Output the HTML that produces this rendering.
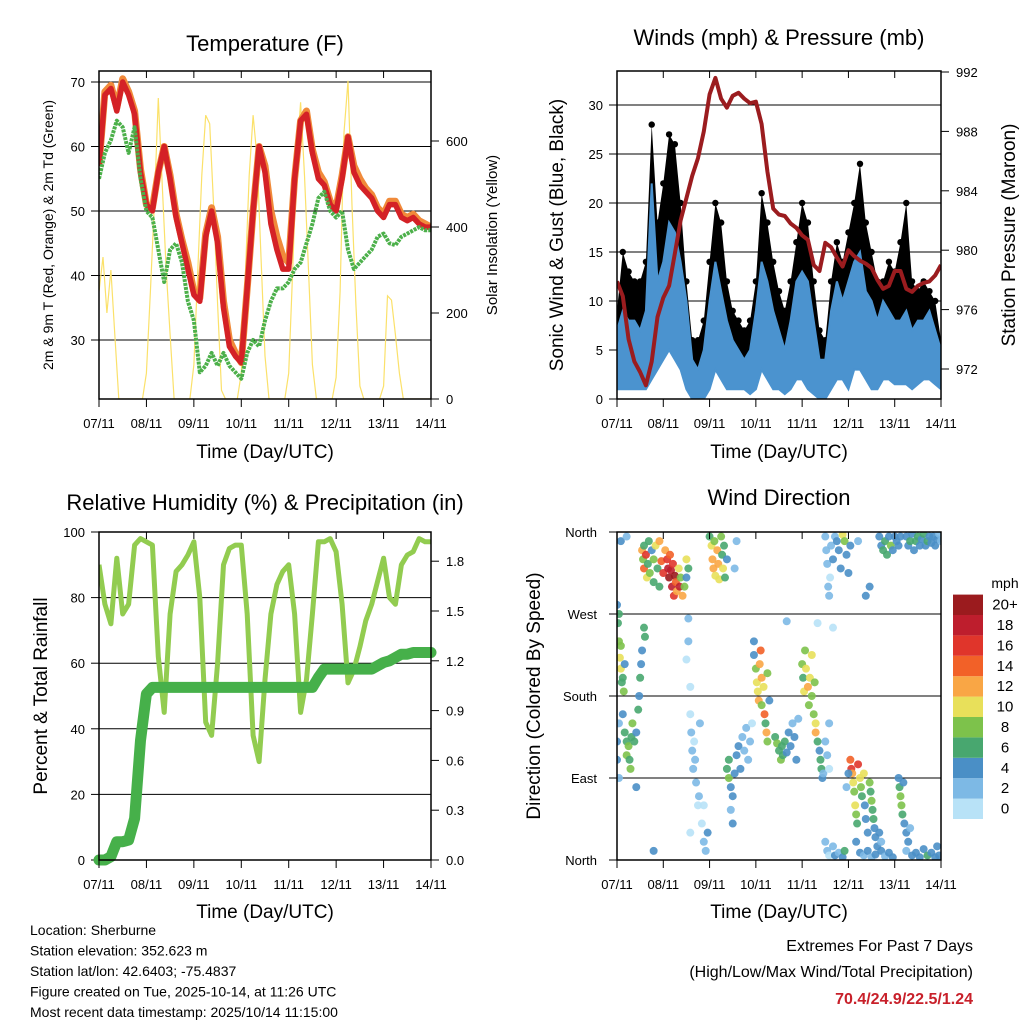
<!DOCTYPE html>
<html><head><meta charset="utf-8"><style>
html,body{margin:0;padding:0;background:#fff;}
svg{display:block;font-family:"Liberation Sans",Arial,sans-serif;}
</style></head><body>
<svg id="s" width="1024" height="1024" viewBox="0 0 1024 1024" xmlns="http://www.w3.org/2000/svg">
<defs>
<clipPath id="c1"><rect x="99" y="71" width="332" height="328"/></clipPath>
<clipPath id="c2"><rect x="617" y="71" width="324" height="328"/></clipPath>
<clipPath id="c3"><rect x="99" y="532" width="332" height="328"/></clipPath>
<clipPath id="c4"><rect x="617" y="532" width="324" height="328"/></clipPath>
</defs>
<text x="265" y="51" font-size="22" text-anchor="middle">Temperature (F)</text>
<text x="779" y="45" font-size="22" text-anchor="middle">Winds (mph) &amp; Pressure (mb)</text>
<text x="265" y="510" font-size="22" text-anchor="middle">Relative Humidity (%) &amp; Precipitation (in)</text>
<text x="779" y="505" font-size="22" text-anchor="middle">Wind Direction</text>

<text transform="translate(53,235) rotate(-90)" font-size="14" text-anchor="middle">2m &amp; 9m T (Red, Orange) &amp; 2m Td (Green)</text>
<text transform="translate(497,235) rotate(-90)" font-size="15" text-anchor="middle">Solar Insolation (Yellow)</text>
<text transform="translate(563,235) rotate(-90)" font-size="19" text-anchor="middle">Sonic Wind &amp; Gust (Blue, Black)</text>
<text transform="translate(1015,235) rotate(-90)" font-size="19" text-anchor="middle">Station Pressure (Maroon)</text>
<text transform="translate(47,696) rotate(-90)" font-size="19" text-anchor="middle">Percent &amp; Total Rainfall</text>
<text transform="translate(540,696) rotate(-90)" font-size="19" text-anchor="middle">Direction (Colored By Speed)</text>

<text x="265" y="458" font-size="19" text-anchor="middle">Time (Day/UTC)</text>
<text x="779" y="458" font-size="19" text-anchor="middle">Time (Day/UTC)</text>
<text x="265" y="918" font-size="19" text-anchor="middle">Time (Day/UTC)</text>
<text x="779" y="918" font-size="19" text-anchor="middle">Time (Day/UTC)</text>

<g font-size="14">
<text x="30" y="935">Location: Sherburne</text>
<text x="30" y="955.5">Station elevation: 352.623 m</text>
<text x="30" y="976">Station lat/lon: 42.6403; -75.4837</text>
<text x="30" y="996.5">Figure created on Tue, 2025-10-14, at 11:26 UTC</text>
<text x="30" y="1017">Most recent data timestamp: 2025/10/14 11:15:00</text>
</g>
<g font-size="16" text-anchor="end">
<text x="973" y="951">Extremes For Past 7 Days</text>
<text x="973" y="977">(High/Low/Max Wind/Total Precipitation)</text>
<text x="973" y="1004" fill="#c8202a" font-weight="bold">70.4/24.9/22.5/1.24</text>
</g>
<g id="g"></g>
</svg>
<script>
// ---- data (3-hour steps, hours since 07/11 00UTC) ----
const hours3 = [0,3,6,9,12,15,18,21,24,27,30,33,36,39,42,45,48,51,54,57,60,63,66,69,72,75,78,81,84,87,90,93,96,99,102,105,108,111,114,117,120,123,126,129,132,135,138,141,144,147,150,153,156,159,162,165,168];
const dayLabels = ["07/11","08/11","09/11","10/11","11/11","12/11","13/11","14/11"];
const tempRed = [57,68,69,65.5,70,68,65,56,51,50,56,60,55,49,45,41,37,36,46,50,45,35,29,27.5,26.5,38,50,60,56,48,44,41,41,55,64,65,59,55,54,51,50,55,61.5,56,54,53,52,50,49,51,51,49,48.5,49,48,47.5,47.5];
const tempOrange = [57,68.5,69.5,66,70.5,68.5,65.5,56.5,51,50.5,56,60,55.5,49.5,45.5,42,37.5,36.5,46.5,50.5,46,36,30,28,26.5,38,50,60,57,50,46,43,42,55,64,65.5,59.5,56,54.5,51.5,50.5,55.5,61.5,57,55,53.5,52.5,50.5,49.5,51.5,51.5,49.5,49,49.5,48.5,48,47.5];
const dewGreen = [55,59,61,64,63,59,63,55,50,49,44,39,44,45,42,36,33,25,26,28,26,28,26,25,24,28,30,29,33,36,38,38,39,41,42,45,48,52,53,50,49,50,44,41,42,43,44,46,46.5,45,44.7,46,46.5,47,47.5,47,47];
const solarHours = [0,2,4,6,8,10,12,14,16,18,20,22,24,26,28,30,32,34,36,38,40,42,44,46,48,50,52,54,56,58,60,62,64,66,68,70,72,74,76,78,80,82,84,86,88,90,92,94,96,98,100,102,104,106,108,110,112,114,116,118,120,122,124,126,128,130,132,134,136,138,140,142,144,146,148,150,152,154,156,158,160,162,164,166,168];
const solar = [250,330,200,300,150,0,0,0,0,0,0,0,60,250,450,700,500,300,150,0,0,0,0,0,80,300,520,660,640,450,220,20,0,0,0,0,60,280,520,660,560,330,100,0,0,0,0,0,60,300,560,690,520,300,80,0,0,0,0,0,50,250,620,740,450,220,30,0,0,0,0,0,30,240,230,150,60,0,0,0,0,0,0,0,0];
const pressure = [977.9,976.9,974,972.5,971.8,970.9,972.5,975.5,976.8,977.6,979.8,982,983.5,985,986.2,988,990.5,991.6,990.2,989.6,990.4,990.6,990.2,989.9,990,988.5,985.3,982.8,982.4,982.3,981.8,981.5,981,980.7,979,978.6,980.5,980.2,979.5,978.9,980,979.6,979.3,979.1,978.8,978,977.4,977.6,978.6,978.6,977.4,977.2,977.6,977.8,977.9,978.3,979];
const sonicMax = [7,9,8,8,7,9,22,12,14,18,17,14,10,4,3,5,10,14,11,8,6,5,4,5,9,14,12,9,7,5,8,12,13,12,8,4,4,9,12,10,12,14,15,11,10,8,10,9,8,8,9,7,8,8,9,7,5];
const sonicMin = [1,1,1,1,1,1,2,3,4,5,4,3,1,0,0,0,1,3,2,1,1,1,1,0.5,1,3,2,1,1,0.5,1,2,2,1,0.5,0,0,1,2,2,1,3,3,2,1,1,2,2,1.5,1.5,1.5,1,1.5,2,2,1.5,1];
const gustMax = [9,15,13,12,12,14,28,18,22,27,26,20,12,6,6,8,14,20,18,12,9,8,7,8,12,21,18,14,11,9,12,16,20,18,12,7,6,12,16,14,17,20,24,18,15,12,12,14,13,16,20,12,11,12,11,10,6];
const rh = [90,78,72,92,75,78,96,98,97,96,62,45,75,88,90,93,97,80,42,38,60,90,95,96,96,75,38,30,55,75,84,88,90,75,45,55,75,97,97,98,94,78,54,58,65,73,78,85,92,80,78,90,93,94,98,97,97];
const precip = [0,0,0.02,0.11,0.11,0.12,0.25,0.72,1.0,1.04,1.04,1.04,1.04,1.04,1.04,1.04,1.04,1.04,1.04,1.04,1.04,1.04,1.04,1.04,1.04,1.04,1.04,1.04,1.04,1.04,1.04,1.04,1.04,1.04,1.04,1.04,1.04,1.1,1.15,1.15,1.15,1.15,1.15,1.15,1.15,1.15,1.15,1.17,1.19,1.2,1.22,1.24,1.24,1.25,1.25,1.25,1.25];
// wind direction points [hour, degrees, mph]
const dirPoints = [
[13,340,12],[13.5,330,8],[14,320,14],[14,345,6],[15,335,16],[15.5,310,10],[16,325,6],[16.5,350,6],[17,315,8],[18,340,4],[19,330,8],[19,305,6],[20,345,10],[21,320,6],[22,350,12],[22,300,5],[23,328,14],[24,315,16],
[25,340,12],[26,330,16],[26.5,320,18],[27,310,20],[27.5,335,14],[28,318,18],[28.5,300,18],[29,325,16],[29.5,290,16],[30,312,20],[30.5,305,14],[31,295,12],[32,320,10],[32.5,300,18],[33,310,8],[34,290,12],[35,300,8],[36,330,10],[37,320,6],
[48,355,6],[49,345,10],[49.5,330,12],[50,320,12],[50.5,350,8],[51,312,10],[52,340,12],[52.5,325,12],[53,308,10],[54,355,8],[54.5,335,6],[55,320,10],[55.5,345,6],[56,310,6],[57,330,4],
[0,280,4],[0.5,260,6],[1,240,8],[1.5,222,10],[2,210,10],[2,235,8],[2.5,195,6],[3,200,6],[3.5,185,8],[1,270,6],[4,215,4],
[3,160,4],[4,140,6],[5,130,6],[5,115,8],[6,125,8],[6.5,110,6],[7,100,8],[7.5,135,6],[8,150,8],[9,130,6],[10,140,4],[11,165,6],[11.5,180,4],[12,200,6],[12.5,215,4],[13,230,4],[14,255,6],[14.5,245,6],[0,130,4],[0,110,4],[1,150,2],
[38,160,0],[38.5,140,2],[39,120,2],[39.5,100,2],[40,130,0],[40.5,110,2],[41,85,2],[42,60,0],[42.5,70,2],[43,150,2],[44,40,0],[45,20,2],[46,10,2],[47,30,4],[36,220,0],[37,240,2],[38,190,0],[37,265,2],[45,60,0],[38,30,0],
[57,100,6],[58,90,8],[58,110,6],[59,80,4],[60,70,4],[61,95,4],[62,115,4],[63,125,4],[64,100,4],[65,135,2],[66,120,2],[67,145,2],[68,110,2],[69,130,2],[70,150,0],[60,40,4],[59,55,2],
[71,240,4],[71,225,4],[72,210,8],[72.5,195,10],[73,185,10],[73.5,175,12],[74,215,12],[74.5,230,14],[75,200,12],[75,170,8],[76,190,10],[76.5,160,14],[77,150,6],[77.5,140,12],[78,130,8],[78,205,8],[79,175,4],
[82,135,6],[83,128,8],[84,120,6],[85,110,8],[85.5,125,6],[86,115,6],[87,130,6],[88,118,4],[89,140,4],[90,125,4],[91,150,2],[92,135,4],[93,110,4],[94,155,2],
[96,215,8],[96.5,200,6],[97,185,10],[97.5,230,8],[98,210,10],[99,190,12],[99.5,170,8],[100,200,10],[101,225,10],[101,180,8],[102,160,8],[103,150,10],[103,140,12],[102.5,195,8],
[104,130,6],[105,120,4],[105.5,110,6],[106,100,6],[106.5,90,4],[107,95,2],[108,130,2],[109,115,2],[110,100,0],[110,150,2],
[108,355,2],[108.5,340,2],[109,325,2],[109.5,300,2],[110,290,2],[110.5,310,0],[111,345,2],[112,330,4],[113,355,2],[114,350,4],[115,340,4],[116,320,4],[117,357,10],[118,350,8],[119,335,4],[120,315,4],[121,345,4],[125,350,2],[129,290,4],
[121,110,14],[121.5,100,16],[122,95,12],[122.5,85,10],[123,75,8],[123.5,60,10],[124,50,8],[124.5,40,6],[125,105,16],[126,90,10],[126.5,80,8],[127,70,6],[128,95,10],[128.5,60,4],[129,45,4],[130,30,4],[120,95,4],[119,80,2],
[131,85,8],[131.5,75,6],[132,65,8],[132.5,55,6],[133,45,6],[133.5,35,4],[134,25,4],[135,15,4],[136,30,4],[137,20,2],
[146,90,4],[146.5,80,6],[147,70,8],[147.5,60,8],[148,50,6],[148.5,85,4],[149,40,4],[150,30,4],[151,20,4],[152,35,2],
[136,355,4],[137,345,4],[138,340,6],[139,350,6],[140,335,6],[141,355,4],[142,345,8],[143,340,4],[144,355,4],[145,350,4],[146,345,4],[147,355,4],
[150,355,4],[151,345,4],[152,350,6],[153,358,4],[154,340,4],[155,350,6],[156,355,6],[157,345,4],[158,352,4],[159,358,6],[160,345,4],[161,350,6],[162,355,4],[163,348,4],[164,355,4],[165,345,4],[166,352,4],[167,358,2],[168,350,2],
[108,20,2],[109,10,2],[110,5,0],[112,15,2],[113,5,4],[115,8,2],[117,3,4],[118,10,6],[124,20,4],[126,8,4],[128,5,2],[130,10,4],[132,3,2],[134,6,4],[137,10,4],[139,4,2],[141,8,4],[143,3,4],[150,10,2],[153,5,4],[155,8,4],[157,3,4],[159,12,4],[161,5,6],[163,8,4],[165,3,4],[166,15,4],[167,5,4],
[2,350,4],[5,355,2],[62,350,2],[61,320,2],[88,262,2],[104,260,0],[112,255,0],[131,300,4],[1,90,2],[10,80,4],[19,10,4],[36,310,4]
];
const speedLabels = ["0","2","4","6","8","10","12","14","16","18","20+"];
const speedColors = ["#b8e2f7","#7db9e5","#4a8fc6","#48a76f","#7dc24b","#e8e05a","#f9a645","#f26128","#e0352b","#be1e2d","#9b1b1e"];
const tempTicks = [30,40,50,60,70];
const solarTicks = [0,200,400,600];
const windTicks = [0,5,10,15,20,25,30];
const pressTicks = [972,976,980,984,988,992];
const rhTicks = [0,20,40,60,80,100];
const precipTicks = [0,0.3,0.6,0.9,1.2,1.5,1.8];
const dirTicks = [0,90,180,270,360];
const dirLabels = ["North","East","South","West","North"];

// ---- scales ----
const xT = h => 99 + h*332/168;
const yT = v => 82 + (70-v)*6.45;
const yS = w => 399 - w*0.43;
const xW = h => 617 + h*324/168;
const yV = v => 399 - v*9.8;
const yP = p => 72 + (992-p)*14.85;
const yRH = r => 860 - r*3.28;
const yPr = p => 860 - p*166;
const yD = d => 860 - d*328/360;

const NS = "http://www.w3.org/2000/svg";
const G = document.getElementById('g');
function mk(tag, attrs, parent){
  const e = document.createElementNS(NS, tag);
  for (const k in attrs) e.setAttribute(k, attrs[k]);
  (parent||G).appendChild(e); return e;
}
function pathOf(xs, ys, fx, fy){
  return xs.map((x,i)=>(i?'L':'M')+fx(x).toFixed(1)+' '+fy(ys[i]).toFixed(1)).join(' ');
}
function txt(x,y,s,size,anchor,parent){
  const t = mk('text',{x:x,y:y,'font-size':size,'text-anchor':anchor},parent);
  t.textContent = s; return t;
}

function frame(name){
  const g = mk('g',{});
  
  
  return g;
}
function box(x0,y0,w,h,parent){
  mk('rect',{x:x0,y:y0,width:w,height:h,fill:'none',stroke:'#000','stroke-width':1.5},parent);
}
function xAxis(fx, y0, y1, parent, name){
  const g = mk('g',{},parent);
  
  
  dayLabels.forEach((lab,i)=>{
    const x = fx(i*24);
    mk('line',{x1:x,y1:y1,x2:x,y2:y1+8,stroke:'#000','stroke-width':1},g);
    mk('line',{x1:x,y1:y0,x2:x,y2:y0+7,stroke:'#000','stroke-width':1},g);
    txt(x, y1+29, lab, 13, 'middle', g);
  });
}

// ===== Panel 1: Temperature =====
const p1 = frame('temperature-panel');
tempTicks.forEach(v=>{
  mk('line',{x1:99,x2:431,y1:yT(v),y2:yT(v),stroke:'#000','stroke-width':1},p1);
  mk('line',{x1:91,x2:99,y1:yT(v),y2:yT(v),stroke:'#000'},p1);
  txt(85, yT(v)+5, String(v), 13, 'end', p1);
});
solarTicks.forEach(v=>{
  mk('line',{x1:431,x2:439,y1:yS(v),y2:yS(v),stroke:'#000'},p1);
  txt(446, yS(v)+5, String(v), 13, 'start', p1);
});
const c1 = mk('g',{'clip-path':'url(#c1)'},p1);
const sol = mk('path',{d:pathOf(solarHours,solar,xT,yS),fill:'none',stroke:'#fbe16a','stroke-width':1.2},c1);


const org = mk('path',{d:pathOf(hours3,tempOrange,xT,yT),fill:'none',stroke:'#f08a3a','stroke-width':7,'stroke-linejoin':'round'},c1);


const red = mk('path',{d:pathOf(hours3,tempRed,xT,yT),fill:'none',stroke:'#d42126','stroke-width':5.5,'stroke-linejoin':'round'},c1);


const grn = mk('path',{d:pathOf(hours3,dewGreen,xT,yT),fill:'none',stroke:'#4cb04a','stroke-width':4,'stroke-linejoin':'round','stroke-dasharray':'3 1'},c1);


box(99,71,332,328,p1);
xAxis(xT,71,399,p1,'temperature-x-axis');

// ===== Panel 2: Winds =====
const p2 = frame('winds-panel');
windTicks.forEach(v=>{
  if (v>0 && v<33) mk('line',{x1:617,x2:941,y1:yV(v),y2:yV(v),stroke:'#000','stroke-width':1},p2);
  mk('line',{x1:609,x2:617,y1:yV(v),y2:yV(v),stroke:'#000'},p2);
  txt(603, yV(v)+5, String(v), 13, 'end', p2);
});
pressTicks.forEach(v=>{
  mk('line',{x1:941,x2:949,y1:yP(v),y2:yP(v),stroke:'#000'},p2);
  txt(956, yP(v)+5, String(v), 13, 'start', p2);
});
const c2 = mk('g',{'clip-path':'url(#c2)'},p2);
const gustArea = 'M'+hours3.map((h,i)=>xW(h).toFixed(1)+' '+yV(gustMax[i]).toFixed(1)).join(' L')+' L'+hours3.slice().reverse().map((h,j)=>{const i=hours3.length-1-j;return xW(h).toFixed(1)+' '+yV(sonicMin[i]).toFixed(1);}).join(' L')+' Z';
const ga = mk('path',{d:gustArea,fill:'#000'},c2);


hours3.forEach((h,i)=>{
  const c = mk('circle',{cx:xW(h),cy:yV(gustMax[i]),r:3.2,fill:'#000'},c2);
  
  
});
const sonicArea = 'M'+hours3.map((h,i)=>xW(h).toFixed(1)+' '+yV(sonicMax[i]).toFixed(1)).join(' L')+' L'+hours3.slice().reverse().map((h,j)=>{const i=hours3.length-1-j;return xW(h).toFixed(1)+' '+yV(sonicMin[i]).toFixed(1);}).join(' L')+' Z';
const sa = mk('path',{d:sonicArea,fill:'#4b93cf',stroke:'#4b93cf','stroke-width':2},c2);


const pr = mk('path',{d:pathOf(hours3,pressure,xW,yP),fill:'none',stroke:'#9b1c1f','stroke-width':4,'stroke-linejoin':'round'},c2);


box(617,71,324,328,p2);
xAxis(xW,71,399,p2,'winds-x-axis');

// ===== Panel 3: RH & Precip =====
const p3 = frame('humidity-panel');
rhTicks.forEach(v=>{
  if (v>0 && v<100) mk('line',{x1:99,x2:431,y1:yRH(v),y2:yRH(v),stroke:'#000','stroke-width':1},p3);
  mk('line',{x1:91,x2:99,y1:yRH(v),y2:yRH(v),stroke:'#000'},p3);
  txt(85, yRH(v)+5, String(v), 13, 'end', p3);
});
precipTicks.forEach(v=>{
  mk('line',{x1:431,x2:439,y1:yPr(v),y2:yPr(v),stroke:'#000'},p3);
  txt(446, yPr(v)+5, v.toFixed(1), 13, 'start', p3);
});
const c3 = mk('g',{'clip-path':'url(#c3)'},p3);
const rl = mk('path',{d:pathOf(hours3,rh,xT,yRH),fill:'none',stroke:'#92cc50','stroke-width':5,'stroke-linejoin':'round'},c3);


const pl = mk('path',{d:pathOf(hours3,precip,xT,yPr),fill:'none',stroke:'#46b04a','stroke-width':11,'stroke-linejoin':'round','stroke-linecap':'round'},p3);


box(99,532,332,328,p3);
xAxis(xT,532,860,p3,'humidity-x-axis');

// ===== Panel 4: Wind direction =====
const p4 = frame('direction-panel');
dirTicks.forEach((v,i)=>{
  if (v>0 && v<360) mk('line',{x1:617,x2:941,y1:yD(v),y2:yD(v),stroke:'#000','stroke-width':1},p4);
  mk('line',{x1:609,x2:617,y1:yD(v),y2:yD(v),stroke:'#000'},p4);
  txt(597, yD(v)+5, dirLabels[i], 13, 'end', p4);
});
const c4 = mk('g',{'clip-path':'url(#c4)'},p4);
dirPoints.forEach(pt=>{
  const idx = Math.min(10, Math.max(0, Math.round(pt[2]/2)));
  const c = mk('circle',{cx:xW(pt[0]),cy:yD(pt[1]),r:4,fill:speedColors[idx],'fill-opacity':0.9},c4);
  
  
});
box(617,532,324,328,p4);
xAxis(xW,532,860,p4,'direction-x-axis');

// color bar
const cb = mk('g',{});


txt(1005, 588, 'mph', 14, 'middle', cb);
speedLabels.forEach((lab,i)=>{
  const y = 798.6 - i*20.4;
  mk('rect',{x:953,y:y,width:30,height:20.4,fill:speedColors[i]},cb);
  txt(1005, y+15, lab, 15, 'middle', cb);
});
</script>
</body></html>
